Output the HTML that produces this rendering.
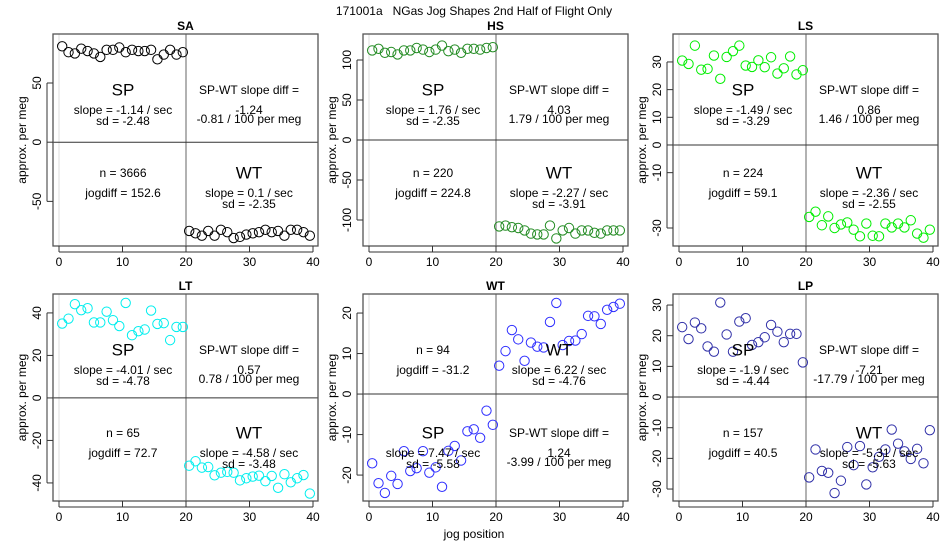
<!DOCTYPE html>
<html><head><meta charset="utf-8">
<style>
html,body{margin:0;padding:0;background:#fff;}
svg{display:block;font-family:"Liberation Sans",Arial,sans-serif;}
</style></head>
<body>
<svg id="chart" width="950" height="550" viewBox="0 0 950 550">
<rect width="950" height="550" fill="#fff"/>
<text x="474" y="12" font-size="12" text-anchor="middle" dominant-baseline="middle">171001a&#160;&#160;&#160;NGas Jog Shapes 2nd Half of Flight Only</text>
<text x="474" y="535" font-size="12" text-anchor="middle" dominant-baseline="middle">jog position</text>
</svg>
<script>
// jog positions
const jogSP = [0.5,1.5,2.5,3.5,4.5,5.5,6.5,7.5,8.5,9.5,10.5,11.5,12.5,13.5,14.5,15.5,16.5,17.5,18.5,19.5];
const jogWT = [20.5,21.5,22.5,23.5,24.5,25.5,26.5,27.5,28.5,29.5,30.5,31.5,32.5,33.5,34.5,35.5,36.5,37.5,38.5,39.5];
const xTicks = [0,10,20,30,40];
// series values
const saSP = [81,76,75,79,77,75,72,78,78,80,76,78,77,77,78,70,74,78,74,76];
const saWT = [-75,-77,-79,-75,-79,-74,-76,-81,-80,-78,-77,-76,-74,-76,-75,-79,-74,-74,-76,-79];
const hsSP = [112,114,109,110,107,112,112,115,113,110,113,118,111,113,109,114,114,113,115,116];
const hsWT = [-108,-107,-109,-110,-113,-117,-118,-118,-107,-123,-113,-110,-117,-113,-113,-116,-117,-113,-113,-113];
const lsSP = [30.5,29.3,35.9,27.2,27.5,32.3,23.9,31.8,33.9,35.9,28.7,28.2,30.6,28.1,31.7,25.8,27.7,32.0,25.5,27.0];
const lsWT = [-26.0,-24.1,-29.0,-25.8,-30.0,-28.7,-28.0,-30.6,-33.0,-28.4,-32.8,-33.0,-28.4,-29.8,-28.4,-29.8,-27.2,-32.0,-33.5,-30.6];
const ltSP = [35,37.3,44.1,41.3,42.2,35.5,35.5,40.6,36.6,33.8,44.7,29.5,31.4,32.2,41.1,34.8,35.2,27.2,33.4,33.4];
const ltWT = [-31.9,-29.8,-32.8,-32.5,-36.4,-35.2,-34.8,-35.2,-38.8,-37.8,-37.0,-36.6,-39.2,-36.7,-42.3,-35.9,-39.7,-37.8,-36.3,-45];
const wtSP = [-17.1,-22.0,-24.4,-20.2,-22.2,-14.1,-19.0,-18.3,-14.1,-19.4,-18.1,-22.9,-14.0,-12.8,-16.4,-9.2,-8.7,-10.8,-4.1,-7.6];
const wtWT = [7.0,10.6,15.8,13.5,8.2,12.7,11.7,11.5,17.8,22.5,12.1,13.1,13.2,14.8,19.3,19.2,17.3,20.8,21.5,22.3];
const lpSP = [22.8,18.9,24.3,22.4,16.5,14.8,30.8,20.4,14.8,24.6,25.7,17.0,17.9,19.5,23.5,21.3,17.9,20.6,20.6,11.3];
const lpWT = [-26.2,-17.1,-24.1,-24.7,-31.3,-27.3,-16.3,-22.2,-16.0,-28.5,-22.9,-19.5,-17.1,-10.6,-15.2,-17.7,-20.2,-16.9,-21.6,-10.8];
// tick labels
const saTicks = [-50,0,50];
const hsTicks = [-100,-50,0,50,100];
const lsTicks = [-30,-10,0,10,20,30];
const ltTicks = [-40,-20,0,20,40];
const wtTicks = [-20,-10,0,10,20];
const lpTicks = [-30,-20,-10,0,10,20,30];
// printed stats
const panelNames = ['SA','HS','LS','LT','WT','LP'];
const spSlope = ['-1.14','1.76','-1.49','-4.01','7.47','-1.9'];
const spSd = ['-2.48','-2.35','-3.29','-4.78','-5.58','-4.44'];
const wtSlope = ['0.1','-2.27','-2.36','-4.58','6.22','-5.31'];
const wtSd = ['-2.35','-3.91','-2.55','-3.48','-4.76','-5.63'];
const diffVal = ['-1.24','4.03','0.86','0.57','1.24','-7.21'];
const diffMeg = ['-0.81','1.79','1.46','0.78','-3.99','-17.79'];
const nVals = ['3666','220','224','65','94','157'];
const jogdiff = ['152.6','224.8','59.1','72.7','-31.2','40.5'];

const NS='http://www.w3.org/2000/svg';
const svg=document.getElementById('chart');
function mk(tag,attrs,parent){const e=document.createElementNS(NS,tag);for(const k in attrs)e.setAttribute(k,attrs[k]);(parent||svg).appendChild(e);return e;}

const panels=[
 {L:53,T:34,ymin:-87.7,ymax:91.4,sp:saSP,wt:saWT,ticks:saTicks,col:'#000000'},
 {L:363,T:34,ymin:-132.5,ymax:132.5,sp:hsSP,wt:hsWT,ticks:hsTicks,col:'#228B22'},
 {L:673,T:34,ymin:-36.5,ymax:40.1,sp:lsSP,wt:lsWT,ticks:lsTicks,col:'#00EE00'},
 {L:53,T:294,ymin:-48.5,ymax:48.9,sp:ltSP,wt:ltWT,ticks:ltTicks,col:'#00EEEE'},
 {L:363,T:294,ymin:-26.4,ymax:24.7,sp:wtSP,wt:wtWT,ticks:wtTicks,col:'#3030FF',swap:true},
 {L:673,T:294,ymin:-33.9,ymax:33.6,sp:lpSP,wt:lpWT,ticks:lpTicks,col:'#3030A8'}
];
const W=265;
panels.forEach((p,pi)=>{
  const H=(pi<3)?212:207;
  const g=mk('g',{});
  
  
  const xs=v=>p.L+6+v*254/40;
  const ys=v=>p.T+(p.ymax-v)/(p.ymax-p.ymin)*H;
  const t=mk('text',{x:p.L+W/2,y:p.T-4,'font-size':12,'font-weight':'bold','text-anchor':'middle'},g);
  t.textContent=panelNames[pi];
  
  
  const l0=mk('line',{x1:xs(0),x2:xs(0),y1:p.T,y2:p.T+H,stroke:'#ddd','stroke-width':1},g);
  
  
  const lv=mk('line',{x1:xs(20),x2:xs(20),y1:p.T,y2:p.T+H,stroke:'#999','stroke-width':1.5},g);
  
  
  const lh=mk('line',{x1:p.L,x2:p.L+W,y1:ys(0),y2:ys(0),stroke:'#333','stroke-width':1},g);
  
  
  const b=mk('rect',{x:p.L,y:p.T,width:W,height:H,fill:'none',stroke:'#555','stroke-width':1.3},g);
  
  
  xTicks.forEach(v=>{
    mk('line',{x1:xs(v),x2:xs(v),y1:p.T+H,y2:p.T+H+6,stroke:'#333'},g);
    const tx=mk('text',{x:xs(v),y:p.T+H+17,'font-size':12,'text-anchor':'middle','dominant-baseline':'middle'},g);
    tx.textContent=v;
    
    
  });
  mk('line',{x1:xs(0),x2:xs(40),y1:p.T+H+6,y2:p.T+H+6,stroke:'#333'},g);
  p.ticks.forEach(v=>{
    mk('line',{x1:p.L-6,x2:p.L,y1:ys(v),y2:ys(v),stroke:'#333'},g);
    const ty=mk('text',{x:0,y:0,'font-size':12,'text-anchor':'middle','dominant-baseline':'middle',transform:`translate(${p.L-15},${ys(v)}) rotate(-90)`},g);
    ty.textContent=v;
    
    
  });
  mk('line',{x1:p.L-6,x2:p.L-6,y1:ys(p.ticks[0]),y2:ys(p.ticks[p.ticks.length-1]),stroke:'#333'},g);
  const yt=mk('text',{x:0,y:0,'font-size':12,'text-anchor':'middle','dominant-baseline':'middle',transform:`translate(${p.L-30},${p.T+H/2}) rotate(-90)`},g);
  yt.textContent='approx. per meg';
  
  
  p.sp.forEach((v,i)=>{
    const c=mk('circle',{cx:xs(jogSP[i]),cy:ys(v),r:4.7,fill:'none',stroke:p.col,'stroke-width':1},g);
    
    
  });
  p.wt.forEach((v,i)=>{
    const c=mk('circle',{cx:xs(jogWT[i]),cy:ys(v),r:4.7,fill:'none',stroke:p.col,'stroke-width':1},g);
    
    
  });
  const lx=p.L+70, rx=p.L+196;
  const top=p.T+57, bot=p.T+140;
  function txt(x,y,s,size,name){
    const e=mk('text',{x:x,y:y,'font-size':size,'text-anchor':'middle','dominant-baseline':'middle'},g);
    e.textContent=s;
    
    
  }
  const spY=p.swap?bot:top, wtY=p.swap?top:bot;
  const diffY=p.swap?bot:top, nY=p.swap?top:bot;
  txt(lx,spY,'SP',17,'sp-label');
  txt(lx,spY+20,'slope = '+spSlope[pi]+' / sec',12,'sp-slope');
  txt(lx,spY+31,'sd = '+spSd[pi],12,'sp-sd');
  txt(rx,wtY,'WT',17,'wt-label');
  txt(rx,wtY+20,'slope = '+wtSlope[pi]+' / sec',12,'wt-slope');
  txt(rx,wtY+31,'sd = '+wtSd[pi],12,'wt-sd');
  txt(rx,diffY,'SP-WT slope diff =',12,'slope-diff-label');
  txt(rx,diffY+20,diffVal[pi],12,'slope-diff-value');
  txt(rx,diffY+29,diffMeg[pi]+' / 100 per meg',12,'slope-diff-per-meg');
  txt(lx,nY,'n = '+nVals[pi],12,'n-count');
  txt(lx,nY+20,'jogdiff = '+jogdiff[pi],12,'jogdiff');
});
</script>
</body></html>
